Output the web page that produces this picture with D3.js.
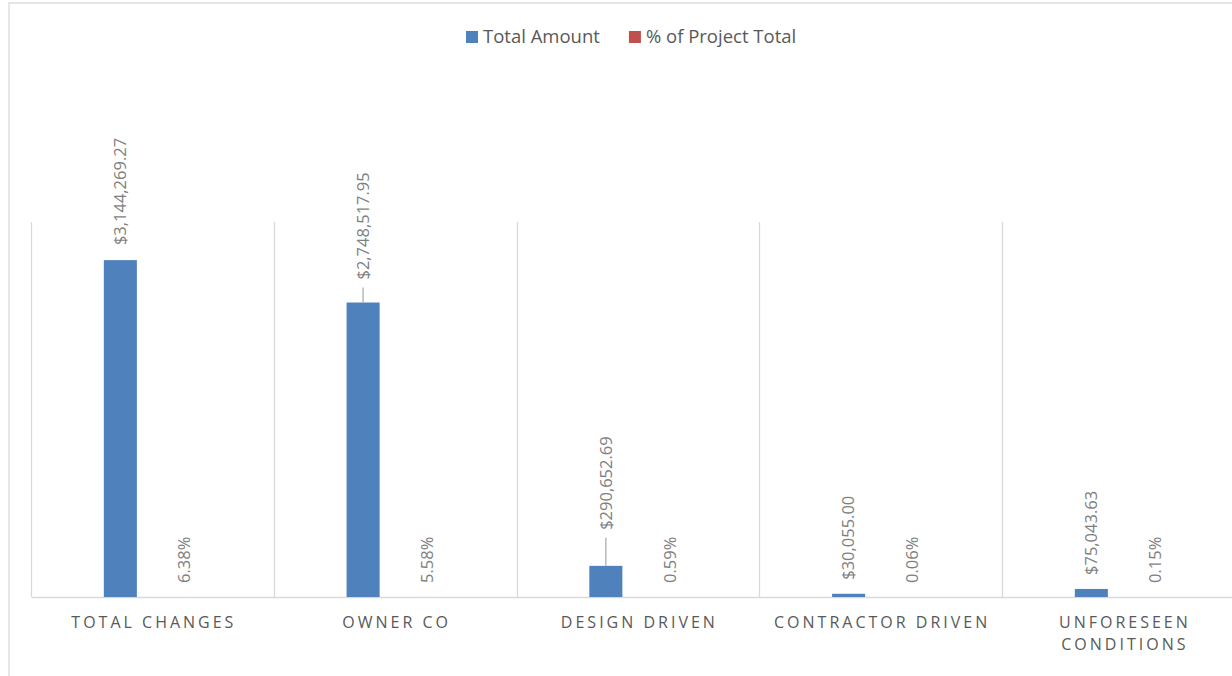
<!DOCTYPE html>
<html>
<head>
<meta charset="utf-8">
<script src="https://cdn.jsdelivr.net/npm/d3@7"></script>
<style>
  body { margin: 0; background: #fff; }
  svg { display: block; font-family: "Open Sans", sans-serif; }
</style>
</head>
<body>
<script>
// chart data
var categories = ["TOTAL CHANGES", "OWNER CO", "DESIGN DRIVEN", "CONTRACTOR DRIVEN", "UNFORESEEN CONDITIONS"];
var totalAmount = [3144269.27, 2748517.95, 290652.69, 30055.00, 75043.63];
var pctTotal = [0.0638, 0.0558, 0.0059, 0.0006, 0.0015];
var seriesNames = ["Total Amount", "% of Project Total"];
var yMax = 3500000;

// label tweaks (extra lift for labels moved by hand in the original)
var amountLabelLift = [15, 23, 36, 14, 14];

const W = 1232, H = 676;
const plot = {left: 31, top: 222, bottom: 597, right: 31 + 5 * 242.75};
const colors = ["#4f81bd", "#c0504d"];

var svg = d3.select("body").append("svg")
  .attr("width", W)
  .attr("height", H);

// chart border
svg.append("rect")
  .attr("x", 9).attr("y", 3)
  .attr("width", 1400).attr("height", 800)
  .attr("fill", "none")
  .attr("stroke", "#d9d9d9")
  .attr("stroke-width", 1.3);

var data = categories.map(function(c, i) {
  return {cat: c, amount: totalAmount[i], pct: pctTotal[i], lift: amountLabelLift[i]};
});

var x0 = d3.scaleBand()
  .domain(categories)
  .range([plot.left, plot.right]);
var bw = x0.bandwidth();
var x1 = d3.scaleBand()
  .domain(["amount", "pct"])
  .range([bw * 0.3, bw * 0.7])
  .paddingInner(0.484);
var y = d3.scaleLinear()
  .domain([0, yMax])
  .range([plot.bottom, plot.top]);

// category separators
svg.append("g")
  .selectAll("line")
  .data(d3.range(categories.length + 1))
  .enter()
  .append("line")
  .attr("x1", function(i) { return Math.round(plot.left + i * bw) + 0.5; })
  .attr("x2", function(i) { return Math.round(plot.left + i * bw) + 0.5; })
  .attr("y1", plot.top)
  .attr("y2", plot.bottom)
  .attr("stroke", "#d9d9d9")
  .attr("stroke-width", 1.3);

// baseline / x axis
var xAxis = d3.axisBottom(x0).tickSize(0).tickPadding(0);
var gx = svg.append("g")
  .attr("transform", "translate(0," + plot.bottom + ")")
  .call(xAxis);
gx.select(".domain").attr("stroke", "#d9d9d9").attr("stroke-width", 1.6);
gx.selectAll(".tick text").remove();

// category labels, wrapped when wider than the band
var catText = svg.append("g")
  .selectAll("text")
  .data(categories)
  .enter()
  .append("text")
  .attr("x", function(d) { return x0(d) + bw / 2 + 1.5; })
  .attr("y", 628)
  .attr("text-anchor", "middle")
  .attr("fill", "#595959")
  .style("font-size", "16px")
  .style("letter-spacing", "3px")
  .text(function(d) { return d; });
catText.each(function(d) {
  var t = d3.select(this);
  if (this.getComputedTextLength() > bw * 0.95) {
    var words = d.split(" ");
    t.text(null);
    words.forEach(function(w, k) {
      t.append("tspan")
        .attr("x", x0(d) + bw / 2 + 1.5)
        .attr("dy", k === 0 ? 0 : 22)
        .text(w);
    });
  }
});

var groups = svg.append("g")
  .selectAll("g")
  .data(data)
  .enter()
  .append("g")
  .attr("transform", function(d) { return "translate(" + x0(d.cat) + ",0)"; });

// amount bars
groups.append("rect")
  .attr("x", x1("amount"))
  .attr("width", x1.bandwidth())
  .attr("y", function(d) { return y(d.amount); })
  .attr("height", function(d) { return y(0) - y(d.amount); })
  .attr("fill", colors[0]);

// pct bars (tiny on this scale)
groups.append("rect")
  .attr("x", x1("pct"))
  .attr("width", x1.bandwidth())
  .attr("y", function(d) { return y(d.pct); })
  .attr("height", function(d) { return y(0) - y(d.pct); })
  .attr("fill", colors[1]);

var fmtMoney = d3.format("$,.2f");
var fmtPct = d3.format(".2%");

// leader lines for lifted labels
groups.filter(function(d) { return d.lift > 20; })
  .append("line")
  .attr("x1", x1("amount") + x1.bandwidth() / 2)
  .attr("x2", x1("amount") + x1.bandwidth() / 2)
  .attr("y1", function(d) { return y(d.amount); })
  .attr("y2", function(d) { return y(d.amount) - d.lift + 8; })
  .attr("stroke", "#a6a6a6")
  .attr("stroke-width", 1.2);

groups.append("text")
  .attr("transform", function(d) {
    return "translate(" + (x1("amount") + x1.bandwidth() / 2) + "," + (y(d.amount) - d.lift) + ") rotate(-90)";
  })
  .attr("dy", "0.35em")
  .attr("fill", "#7f7f7f")
  .style("font-size", "16.5px")
  .text(function(d) { return fmtMoney(d.amount); });

groups.append("text")
  .attr("transform", function(d) {
    return "translate(" + (x1("pct") + x1.bandwidth() / 2) + "," + (y(d.pct) - 14) + ") rotate(-90)";
  })
  .attr("dy", "0.35em")
  .attr("fill", "#7f7f7f")
  .style("font-size", "16.5px")
  .text(function(d) { return fmtPct(d.pct); });

// legend
var legend = svg.append("g");
var lx = 466;
seriesNames.forEach(function(name, i) {
  legend.append("rect")
    .attr("x", lx).attr("y", 31)
    .attr("width", 12).attr("height", 12)
    .attr("fill", colors[i]);
  var t = legend.append("text")
    .attr("x", lx + 17)
    .attr("y", 43)
    .attr("fill", "#595959")
    .style("font-size", "18.5px")
    .text(name);
  lx += 17 + t.node().getComputedTextLength() + 29;
});
</script>
</body>
</html>
